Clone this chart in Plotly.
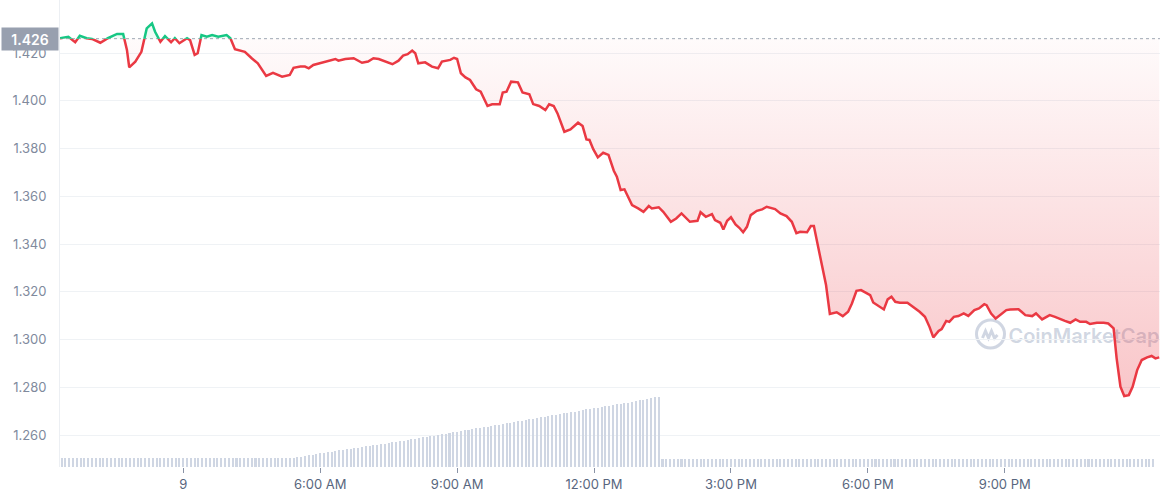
import pandas as pd
import plotly.graph_objects as go

# ---------------- data ----------------
DAY = "2023-02-09"
open_price = 1.426

# price samples: minutes after midnight of day "9", and the price at that time
price_minutes = [
    18, 29, 38, 44, 53, 60, 71, 81, 93, 101, 106, 109, 117, 125, 132, 139, 143, 150, 156, 164,
    169, 175, 185, 189, 195, 199, 204, 211, 218, 226, 237, 242, 248, 261, 270, 278,
    289, 298, 310, 320, 325, 334, 340, 345, 351, 360, 369, 380, 384, 393, 404, 415, 423, 430,
    437, 445, 455, 463, 469, 475, 481, 485, 489, 498, 507, 515, 520, 531, 536, 540, 545,
    551, 557, 565, 571, 580, 586, 596, 600, 605, 611, 620, 626, 635, 640, 648, 656, 661, 667,
    672, 681, 689, 699, 705, 710, 714, 719, 725, 732, 739, 746, 750, 755, 760, 770, 778, 785,
    792, 796, 805, 811, 821, 828, 835, 846, 856, 860, 867, 875, 879, 886, 890, 895, 900, 906,
    911, 916, 921, 926, 934, 941, 947, 958, 965, 973, 980, 986, 991, 1000, 1005, 1009, 1015,
    1021, 1025, 1030,
    1039, 1047, 1054, 1059, 1065, 1071, 1078, 1083, 1087, 1094, 1101, 1106, 1111, 1116, 1122,
    1132, 1140, 1148, 1155, 1161, 1166, 1173, 1177, 1183, 1187, 1193, 1199, 1206, 1212, 1220,
    1226, 1233, 1236, 1242, 1248, 1255, 1262,
    1267, 1278, 1282, 1287, 1296, 1301, 1309, 1319, 1326, 1333, 1339, 1346, 1353, 1359, 1367,
    1372, 1381, 1390, 1396, 1403, 1407, 1412, 1417, 1423, 1428, 1434, 1440, 1447, 1453, 1458,
    1463,
]
price_values = [
    1.4262, 1.4268, 1.4245, 1.4272, 1.4262, 1.4259, 1.4243, 1.4262, 1.4280, 1.4280, 1.4213,
    1.4140, 1.4164, 1.4205, 1.4303, 1.4324, 1.4289, 1.4247, 1.4271, 1.4245,
    1.4262, 1.4241, 1.4262, 1.4254, 1.4192, 1.4199, 1.4275, 1.4268, 1.4275, 1.4268, 1.4275,
    1.4262, 1.4216, 1.4205, 1.4178, 1.4157,
    1.4104, 1.4117, 1.4101, 1.4108, 1.4138, 1.4143, 1.4143, 1.4136, 1.4150, 1.4157, 1.4164,
    1.4175, 1.4168, 1.4175, 1.4178, 1.4159, 1.4164, 1.4178,
    1.4175, 1.4166, 1.4153, 1.4168, 1.4189, 1.4195, 1.4210, 1.4199, 1.4157, 1.4161, 1.4143,
    1.4136, 1.4164, 1.4171, 1.4180, 1.4175, 1.4115,
    1.4098, 1.4087, 1.4048, 1.4038, 1.3978, 1.3985, 1.3985, 1.4034, 1.4038, 1.4080, 1.4077,
    1.4035, 1.4027, 1.3986, 1.3978, 1.3961, 1.3985, 1.3978,
    1.3947, 1.3870, 1.3880, 1.3908, 1.3894, 1.3838, 1.3836, 1.3797, 1.3763, 1.3782, 1.3773,
    1.3707, 1.3682, 1.3626, 1.3629, 1.3563, 1.3549, 1.3535,
    1.3559, 1.3549, 1.3554, 1.3535, 1.3493, 1.3507, 1.3528, 1.3493, 1.3497, 1.3533, 1.3514,
    1.3525, 1.3500, 1.3489, 1.3461, 1.3497, 1.3512, 1.3482,
    1.3468, 1.3449, 1.3472, 1.3521, 1.3539, 1.3545, 1.3556, 1.3546, 1.3528, 1.3517, 1.3493,
    1.3445, 1.3451, 1.3449, 1.3475, 1.3475, 1.3382,
    1.3280, 1.3228, 1.3107,
    1.3114, 1.3098, 1.3116, 1.3151, 1.3204, 1.3207, 1.3193, 1.3186, 1.3155, 1.3140, 1.3126,
    1.3168, 1.3179, 1.3158, 1.3154,
    1.3154, 1.3135, 1.3116, 1.3095, 1.3053, 1.3009, 1.3036, 1.3044, 1.3078, 1.3074, 1.3095,
    1.3098, 1.3109, 1.3099, 1.3123,
    1.3130, 1.3148, 1.3144, 1.3109, 1.3088, 1.3107, 1.3123,
    1.3126, 1.3127, 1.3116, 1.3102, 1.3098, 1.3109, 1.3084, 1.3102, 1.3095, 1.3084, 1.3078,
    1.3070, 1.3084, 1.3074, 1.3074,
    1.3065, 1.3070, 1.3070, 1.3067, 1.3047, 1.2921, 1.2802, 1.2763, 1.2767, 1.2802, 1.2872,
    1.2914, 1.2925, 1.2931, 1.2921,
    1.2925,
]

# volume bars, one every 5 minutes starting at volume_start (relative units)
volume_start = "2023-02-09 00:20"
vol_early = [
    9.4, 9.4, 9.4, 9.4, 9.4, 9.4, 9.4, 9.4, 9.4, 9.4, 9.4, 9.4, 9.4, 9.4, 9.4, 9.4,
    9.4, 9.4, 9.4, 9.4, 9.4, 9.4, 9.4, 9.4, 9.4, 9.4, 9.4, 9.4, 9.4, 9.4, 9.4, 9.4,
    9.4, 9.4, 9.4, 9.4, 9.4, 9.4, 9.4, 9.4, 9.4, 9.4, 9.4, 9.4, 9.4, 9.4, 9.4, 9.4,
    9.4, 9.4, 9.4, 9.4, 9.4, 9.4, 9.4, 9.4, 9.4, 9.4, 9.4, 9.4, 9.4, 9.4,
]
vol_ramp = [
    10.0, 10.4, 11.1, 11.8, 12.4, 13.1, 13.7, 14.2, 14.9, 15.3,
    16.0, 16.6, 17.4, 17.8, 18.4, 19.1, 19.5, 20.1, 20.6, 21.3,
    21.8, 22.4, 23.0, 23.4, 24.1, 24.9, 25.3, 26.0, 26.5, 27.2,
    28.0, 28.5, 29.0, 29.7, 30.4, 31.0, 31.5, 32.2, 33.0, 33.5,
    34.1, 34.8, 35.3, 36.0, 36.8, 37.3, 38.0, 38.6, 39.4, 39.9,
    40.5, 41.2, 42.0, 42.5, 43.2, 43.9, 44.5, 45.0, 45.8, 46.5,
    47.1, 47.6, 48.4, 49.1, 49.7, 50.2, 51.0, 51.7, 52.3, 52.8,
    53.6, 54.3, 54.9, 55.4, 56.2, 56.9, 57.6, 58.2, 58.8, 59.5,
    60.2, 60.8, 61.5, 62.0, 62.7, 63.4, 64.0, 64.5, 65.3, 66.0,
    66.6, 67.1, 67.9, 68.6, 69.9, 70.4,
]
vol_late = [
    8.4, 8.4, 8.4, 8.4, 8.4, 8.4, 8.4, 8.4, 8.4, 8.4, 8.4, 8.4, 8.4, 8.4, 8.4, 8.4,
    8.4, 8.4, 8.4, 8.4, 8.4, 8.4, 8.4, 8.4, 8.4, 8.4, 8.4, 8.4, 8.4, 8.4, 8.4, 8.4,
    8.4, 8.4, 8.4, 8.4, 8.4, 8.4, 8.4, 8.4, 8.4, 8.4, 8.4, 8.4, 8.4, 8.4, 8.4, 8.4,
    8.4, 8.4, 8.4, 8.4, 8.4, 8.4, 8.4, 8.4, 8.4, 8.4, 8.4, 8.4, 8.4, 8.4, 8.4, 8.4,
    8.4, 8.4, 8.4, 8.4, 8.4, 8.4, 8.4, 8.4, 8.4, 8.4, 8.4, 8.4, 8.4, 8.4, 8.4, 8.4,
    8.4, 8.4, 8.4, 8.4, 8.4, 8.4, 8.4, 8.4, 8.4, 8.4, 8.4, 8.4, 8.4, 8.4, 8.4, 8.4,
    8.4, 8.4, 8.4, 8.4, 8.4, 8.4, 8.4, 8.4, 8.4, 8.4, 8.4, 8.4, 8.4, 8.4, 8.4, 8.4,
    8.4, 8.4, 8.4, 8.4, 8.4, 8.4, 8.4, 8.4, 8.4, 8.4, 8.4, 8.4, 8.4, 8.4, 8.4, 8.4,
    8.4, 8.4,
]

y_tick_values = [1.260, 1.280, 1.300, 1.320, 1.340, 1.360, 1.380, 1.400, 1.420]
x_tick_minutes = [180, 360, 540, 720, 900, 1080, 1260]
x_tick_labels = ["9", "6:00 AM", "9:00 AM", "12:00 PM", "3:00 PM", "6:00 PM", "9:00 PM"]
x_range_minutes = [18, 1464]
y_range = [1.2466, 1.4422]

# ---------------- derived ----------------
day0 = pd.Timestamp(DAY)
times = day0 + pd.to_timedelta(price_minutes, unit="min")
volume = vol_early + vol_ramp + vol_late
vol_times = pd.date_range(volume_start, periods=len(volume), freq="5min")
x0 = day0 + pd.Timedelta(minutes=x_range_minutes[0])
x1 = day0 + pd.Timedelta(minutes=x_range_minutes[1])
tick_times = day0 + pd.to_timedelta(x_tick_minutes, unit="min")
base = [open_price] * len(times)
pb = (open_price - y_range[0]) / (y_range[1] - y_range[0])

RED = "#ea3943"
GREEN = "#16c784"
FONT = "Inter"

W, H = 1161, 500
ML, MR, MT, MB = 60, 1, 0, 33
PW, PH = W - ML - MR, H - MT - MB


def pp(px, py):
    """pixel -> paper coordinates (for decorative watermark only)"""
    return (px - ML) / PW, (H - MB - py) / PH


fig = go.Figure()

fig.add_trace(go.Bar(
    x=vol_times, y=volume, yaxis="y2", width=160000,
    marker=dict(color="#cfd6e3", line=dict(width=0)), hoverinfo="skip",
))
fig.add_trace(go.Scatter(
    x=[x0, x1], y=[open_price, open_price], mode="lines",
    line=dict(color="#a2a9b6", width=1, dash="dot"), hoverinfo="skip",
))
# below-open part (red) on clipped axis y3
fig.add_trace(go.Scatter(x=times, y=base, yaxis="y3", mode="lines",
                         line=dict(width=0, color="rgba(0,0,0,0)"), hoverinfo="skip"))
fig.add_trace(go.Scatter(
    x=times, y=price_values, yaxis="y3", mode="lines", fill="tonexty",
    line=dict(width=0, color="rgba(0,0,0,0)"),
    fillgradient=dict(type="vertical", start=y_range[0], stop=open_price,
                      colorscale=[[0, "rgba(234,57,67,0.34)"], [1, "rgba(234,57,67,0.02)"]]),
    hoverinfo="skip",
))
fig.add_trace(go.Scatter(x=times, y=price_values, yaxis="y3", mode="lines",
                         line=dict(color=RED, width=2.5)))
# above-open part (green) on clipped axis y4
fig.add_trace(go.Scatter(x=times, y=base, yaxis="y4", mode="lines",
                         line=dict(width=0, color="rgba(0,0,0,0)"), hoverinfo="skip"))
fig.add_trace(go.Scatter(x=times, y=price_values, yaxis="y4", mode="lines", fill="tonexty",
                         line=dict(width=0, color="rgba(0,0,0,0)"),
                         fillcolor="rgba(22,199,132,0.07)", hoverinfo="skip"))
fig.add_trace(go.Scatter(x=times, y=price_values, yaxis="y4", mode="lines",
                         line=dict(color=GREEN, width=2.5)))

# watermark (logo + word), drawn below the data
wm = "rgba(150,165,190,0.45)"
cx, cy = pp(990.5, 334)
rx, ry = 14 / PW, 14 / PH
shapes = [dict(type="circle", xref="paper", yref="paper", layer="below",
               x0=cx - rx, x1=cx + rx, y0=cy - ry, y1=cy + ry,
               line=dict(color=wm, width=3))]
pts = [pp(990.5 + dx, 334 + dy) for dx, dy in [(-8, 4), (-5, -3), (-2, 4), (1, -3), (4, 4), (7, 1)]]
path = "M " + " L ".join(f"{x:.5f},{y:.5f}" for x, y in pts)
shapes.append(dict(type="path", xref="paper", yref="paper", layer="below", path=path,
                   line=dict(color=wm, width=3)))
tx0, ty0 = pp(1014, 350)
tx1, ty1 = pp(1154, 320)
shapes.append(dict(type="rect", xref="paper", yref="paper", layer="below",
                   x0=tx0, x1=tx1, y0=ty0, y1=ty1, line=dict(width=0),
                   fillcolor="rgba(0,0,0,0)",
                   label=dict(text="CoinMarketCap", textposition="middle center",
                              font=dict(family=FONT, size=20, color=wm, weight=600))))

fig.update_layout(
    width=W, height=H,
    margin=dict(l=ML, r=MR, t=MT, b=MB),
    paper_bgcolor="white", plot_bgcolor="rgba(0,0,0,0)",
    showlegend=False, hovermode=False,
    font=dict(family=FONT),
    shapes=shapes,
    xaxis=dict(type="date", range=[x0, x1], tickvals=tick_times, ticktext=x_tick_labels,
               showgrid=False, zeroline=False, showline=False,
               ticks="outside", ticklen=5, tickwidth=1, tickcolor="#8a93a6",
               tickfont=dict(size=13, color="#58667e"), anchor="y"),
    yaxis=dict(range=y_range, tickvals=y_tick_values, tickformat=".3f",
               showgrid=True, gridcolor="#eff2f5", gridwidth=1, zeroline=False,
               showline=True, linecolor="#eceff3", linewidth=1,
               ticks="", ticklabelstandoff=10,
               tickfont=dict(size=13, color="#808a9d")),
    yaxis2=dict(overlaying="y", range=[0, PH], visible=False),
    yaxis3=dict(domain=[0, pb], range=[y_range[0], open_price], visible=False, anchor="x"),
    yaxis4=dict(domain=[pb, 1], range=[open_price, y_range[1]], visible=False, anchor="x"),
    bargap=0,
    annotations=[dict(x=0, xref="paper", xanchor="right", xshift=-1,
                      y=open_price, yref="y", yanchor="middle",
                      text="1.426", showarrow=False, width=48, height=14,
                      bgcolor="#98a0af", borderpad=4,
                      font=dict(family=FONT, size=14, color="white", weight=600))],
)

fig.write_html(
    "out.html",
    config={"displayModeBar": False},
    post_script="document.body.style.margin='0';document.body.style.overflow='hidden';",
)
